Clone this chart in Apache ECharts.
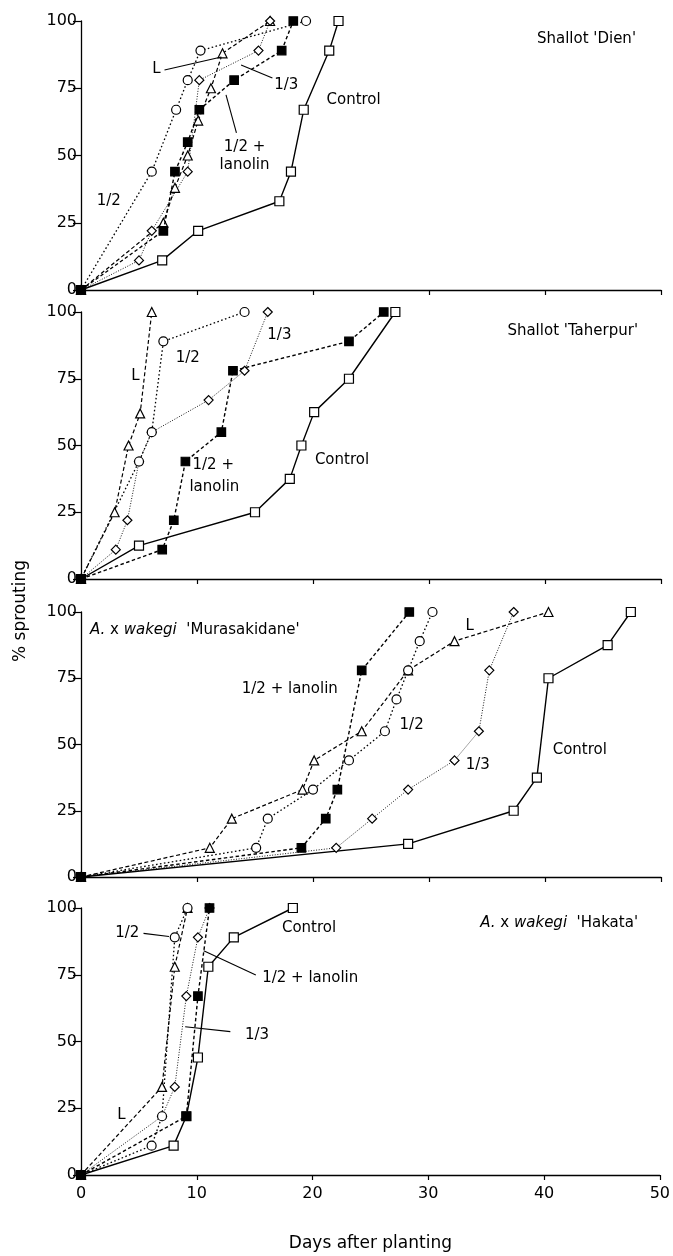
<!DOCTYPE html>
<html><head><meta charset="utf-8">
<script src="https://cdn.jsdelivr.net/npm/echarts@6/dist/echarts.min.js"></script>
<style>html,body{margin:0;padding:0;background:#fff}#c{width:673px;height:1256px}</style>
</head><body><div id="c"></div><script>
// ---- data (days after planting, % sprouting) ----
const xTicks = [0, 10, 20, 30, 40, 50];
const yTicks = [0, 25, 50, 75, 100];

// Panel 1: Shallot 'Dien'
const dienControl = [[0,0],[7,11],[10.1,22],[17.1,33],[18.1,44],[19.2,67],[21.4,89],[22.2,100]];
const dienL       = [[0,0],[7.1,25],[8.1,38],[9.2,50],[10.1,63],[11.2,75],[12.2,88],[16.3,100]];
const dienThird   = [[0,0],[5,11],[6.1,22],[9.2,44],[10.2,78],[15.3,89],[16.3,100]];
const dienHalf    = [[0,0],[6.1,44],[8.2,67],[9.2,78],[10.3,89],[19.4,100]];
const dienHalfLan = [[0,0],[7.1,22],[8.1,44],[9.2,55],[10.2,67],[13.2,78],[17.3,89],[18.3,100]];

// Panel 2: Shallot 'Taherpur'
const taherControl = [[0,0],[5.0,12.5],[15.0,25],[18.0,37.5],[19.0,50],[20.1,62.5],[23.1,75],[27.1,100]];
const taherL       = [[0,0],[2.9,25],[4.1,50],[5.1,62],[6.1,100]];
const taherThird   = [[0,0],[3.0,11],[4.0,22],[5.0,44],[6.1,55],[11.0,67],[14.1,78],[16.1,100]];
const taherHalf    = [[0,0],[5.0,44],[6.1,55],[7.1,89],[14.1,100]];
const taherHalfLan = [[0,0],[7.0,11],[8.0,22],[9.0,44],[12.1,55],[13.1,78],[23.1,89],[26.1,100]];

// Panel 3: A. x wakegi 'Murasakidane'
const muraControl = [[0,0],[28.2,12.5],[37.3,25],[39.3,37.5],[40.3,75],[45.4,87.5],[47.4,100]];
const muraL       = [[0,0],[11.1,11],[13.0,22],[19.1,33],[20.1,44],[24.2,55],[28.2,78],[32.2,89],[40.3,100]];
const muraThird   = [[0,0],[22.0,11],[25.1,22],[28.2,33],[32.2,44],[34.3,55],[35.2,78],[37.3,100]];
const muraHalf    = [[0,0],[15.1,11],[16.1,22],[20.0,33],[23.1,44],[26.2,55],[27.2,67],[28.2,78],[29.2,89],[30.3,100]];
const muraHalfLan = [[0,0],[19.0,11],[21.1,22],[22.1,33],[24.2,78],[28.3,100]];

// Panel 4: A. x wakegi 'Hakata'
const hakaControl = [[0,0],[8.0,11],[9.1,22],[10.1,44],[11.0,78],[13.2,89],[18.3,100]];
const hakaL       = [[0,0],[7.0,33],[8.1,78],[9.2,100]];
const hakaThird   = [[0,0],[7.0,22],[8.1,33],[9.1,67],[10.1,89],[11.1,100]];
const hakaHalf    = [[0,0],[6.1,11],[7.0,22],[8.1,89],[9.2,100]];
const hakaHalfLan = [[0,0],[9.1,22],[10.1,67],[11.1,100]];

// ---- annotations (text, anchor in data units) and pointer lines ----
const notes = [
  [[2.4,33,'1/2'],[6.5,82,'L'],[17.7,76,'1/3'],[14.1,53,'1/2 +'],[14.1,46.5,'lanolin'],[23.5,70.6,'Control']],
  [[4.7,76,'L'],[9.2,82.6,'1/2'],[17.1,91.4,'1/3'],[11.4,42.7,'1/2 +'],[11.5,34.6,'lanolin'],[22.5,44.6,'Control']],
  [[18.0,70.8,'1/2 + lanolin'],[33.5,94.7,'L'],[28.5,57.4,'1/2'],[34.2,42.3,'1/3'],[43.0,48,'Control']],
  [[4.0,90.5,'1/2'],[19.7,92.4,'Control'],[19.8,73.7,'1/2 + lanolin'],[15.2,52.4,'1/3'],[3.5,22.5,'L']]
];
const pointers = [
  [[[7.2,81.8],[12.1,86.6]],[[13.8,83.6],[16.5,78.8]],[[12.5,72.5],[13.4,58.4]]],
  [],
  [],
  [[[5.4,90.5],[7.6,89.3]],[[10.6,84],[15.1,74.9]],[[9.0,55.5],[12.9,53.7]]]
];

const FONT = 'DejaVu Sans';
const grids = [
  {left:81, width:580, top:21,  height:269},
  {left:81, width:580, top:312, height:267},
  {left:81, width:580, top:612, height:265},
  {left:81, width:580, top:908, height:267}
];

const xAxes = grids.map((g,i)=>({
  gridIndex:i, type:'value', min:xTicks[0], max:xTicks[xTicks.length-1], interval:10,
  axisLine:{show:true, onZero:false, lineStyle:{color:'#000', width:1.3}},
  axisTick:{show:true, inside:false, length:5, lineStyle:{color:'#000', width:1.2}},
  axisLabel:{show:i===3, color:'#000', fontSize:16, fontFamily:FONT, margin:11},
  splitLine:{show:false},
  name: i===3 ? 'Days after planting' : '',
  nameLocation:'middle', nameGap:60,
  nameTextStyle:{color:'#000', fontSize:17, fontFamily:FONT}
}));
const yAxes = grids.map((g,i)=>({
  gridIndex:i, type:'value', min:yTicks[0], max:yTicks[yTicks.length-1], interval:25,
  axisLine:{show:true, lineStyle:{color:'#000', width:1.3}},
  axisTick:{show:true, inside:false, length:8, lineStyle:{color:'#000', width:1.2}},
  axisLabel:{color:'#000', fontSize:16, fontFamily:FONT, margin:4},
  splitLine:{show:false}
}));

const styles = {
  control: {symbol:'rect', size:9, fill:'#fff', line:{type:'solid', width:1.4}},
  L:       {symbol:'triangle', size:9, fill:'#fff', line:{type:[4,2.5], width:1.2}},
  third:   {symbol:'diamond', size:9, fill:'#fff', line:{type:[1,1.6], width:0.9}},
  half:    {symbol:'circle', size:9, fill:'#fff', line:{type:[1.6,2.4], width:1.3}},
  halfLan: {symbol:'rect', size:8.5, fill:'#000', line:{type:[3.5,2.5], width:1.4}}
};
function mk(panel, name, data, st){
  const s = styles[st];
  return {
    type:'line', name, xAxisIndex:panel, yAxisIndex:panel, data,
    symbol:s.symbol, symbolSize:s.size, showAllSymbol:true,
    lineStyle:{color:'#000', width:s.line.width, type:s.line.type},
    itemStyle:{color:s.fill, borderColor:'#000', borderWidth:1.2},
    z: st==='halfLan'?4:3, animation:false, silent:true
  };
}
const panels = [
  [dienControl, dienL, dienThird, dienHalf, dienHalfLan],
  [taherControl, taherL, taherThird, taherHalf, taherHalfLan],
  [muraControl, muraL, muraThird, muraHalf, muraHalfLan],
  [hakaControl, hakaL, hakaThird, hakaHalf, hakaHalfLan]
];
const keys = ['control','L','third','half','halfLan'];
const names = ['Control','L','1/3','1/2','1/2 + lanolin'];
const series = [];
panels.forEach((arrs,p)=>{
  arrs.forEach((d,k)=>series.push(mk(p, names[k], d, keys[k])));
  series.push({
    type:'scatter', xAxisIndex:p, yAxisIndex:p, symbolSize:1, silent:true, animation:false,
    itemStyle:{color:'rgba(255,255,255,0)', opacity:1},
    data: notes[p].map(n=>({value:[n[0],n[1]], label:{show:true, position:'inside', formatter:n[2],
      color:'#000', opacity:1, textBorderWidth:0, fontSize:15, fontFamily:FONT}})),
    markLine:{silent:true, symbol:'none', animation:false, label:{show:false},
      lineStyle:{color:'#000', type:'solid', width:1.1, opacity:1},
      data: pointers[p].map(pt=>[{coord:pt[0]},{coord:pt[1]}])}
  });
});

const tStyle = {color:'#000', fontSize:15, fontWeight:'normal', fontFamily:FONT,
  rich:{i:{fontStyle:'italic', fontSize:15, fontFamily:FONT, color:'#000'},
        n:{fontSize:15, fontFamily:FONT, color:'#000'}}};
const option = {
  backgroundColor:'#fff', animation:false,
  title:[
    {text:"Shallot 'Dien'", right:37, top:32, padding:0, textStyle:tStyle},
    {text:"Shallot 'Taherpur'", right:35, top:324, padding:0, textStyle:tStyle},
    {text:"{i|A.}{n| x }{i|wakegi}{n|  'Murasakidane'}", left:90, top:623, padding:0, textStyle:tStyle},
    {text:"{i|A.}{n| x }{i|wakegi}{n|  'Hakata'}", right:35, top:916, padding:0, textStyle:tStyle}
  ],
  grid:grids, xAxis:xAxes, yAxis:yAxes, series,
  graphic:[{type:'text', left:12, top:560, rotation:Math.PI/2,
    style:{text:'% sprouting', fill:'#000', font:'17px "DejaVu Sans"'}}]
};
const chart = echarts.init(document.getElementById('c'), null, {renderer:'canvas'});
chart.setOption(option);
</script></body></html>
